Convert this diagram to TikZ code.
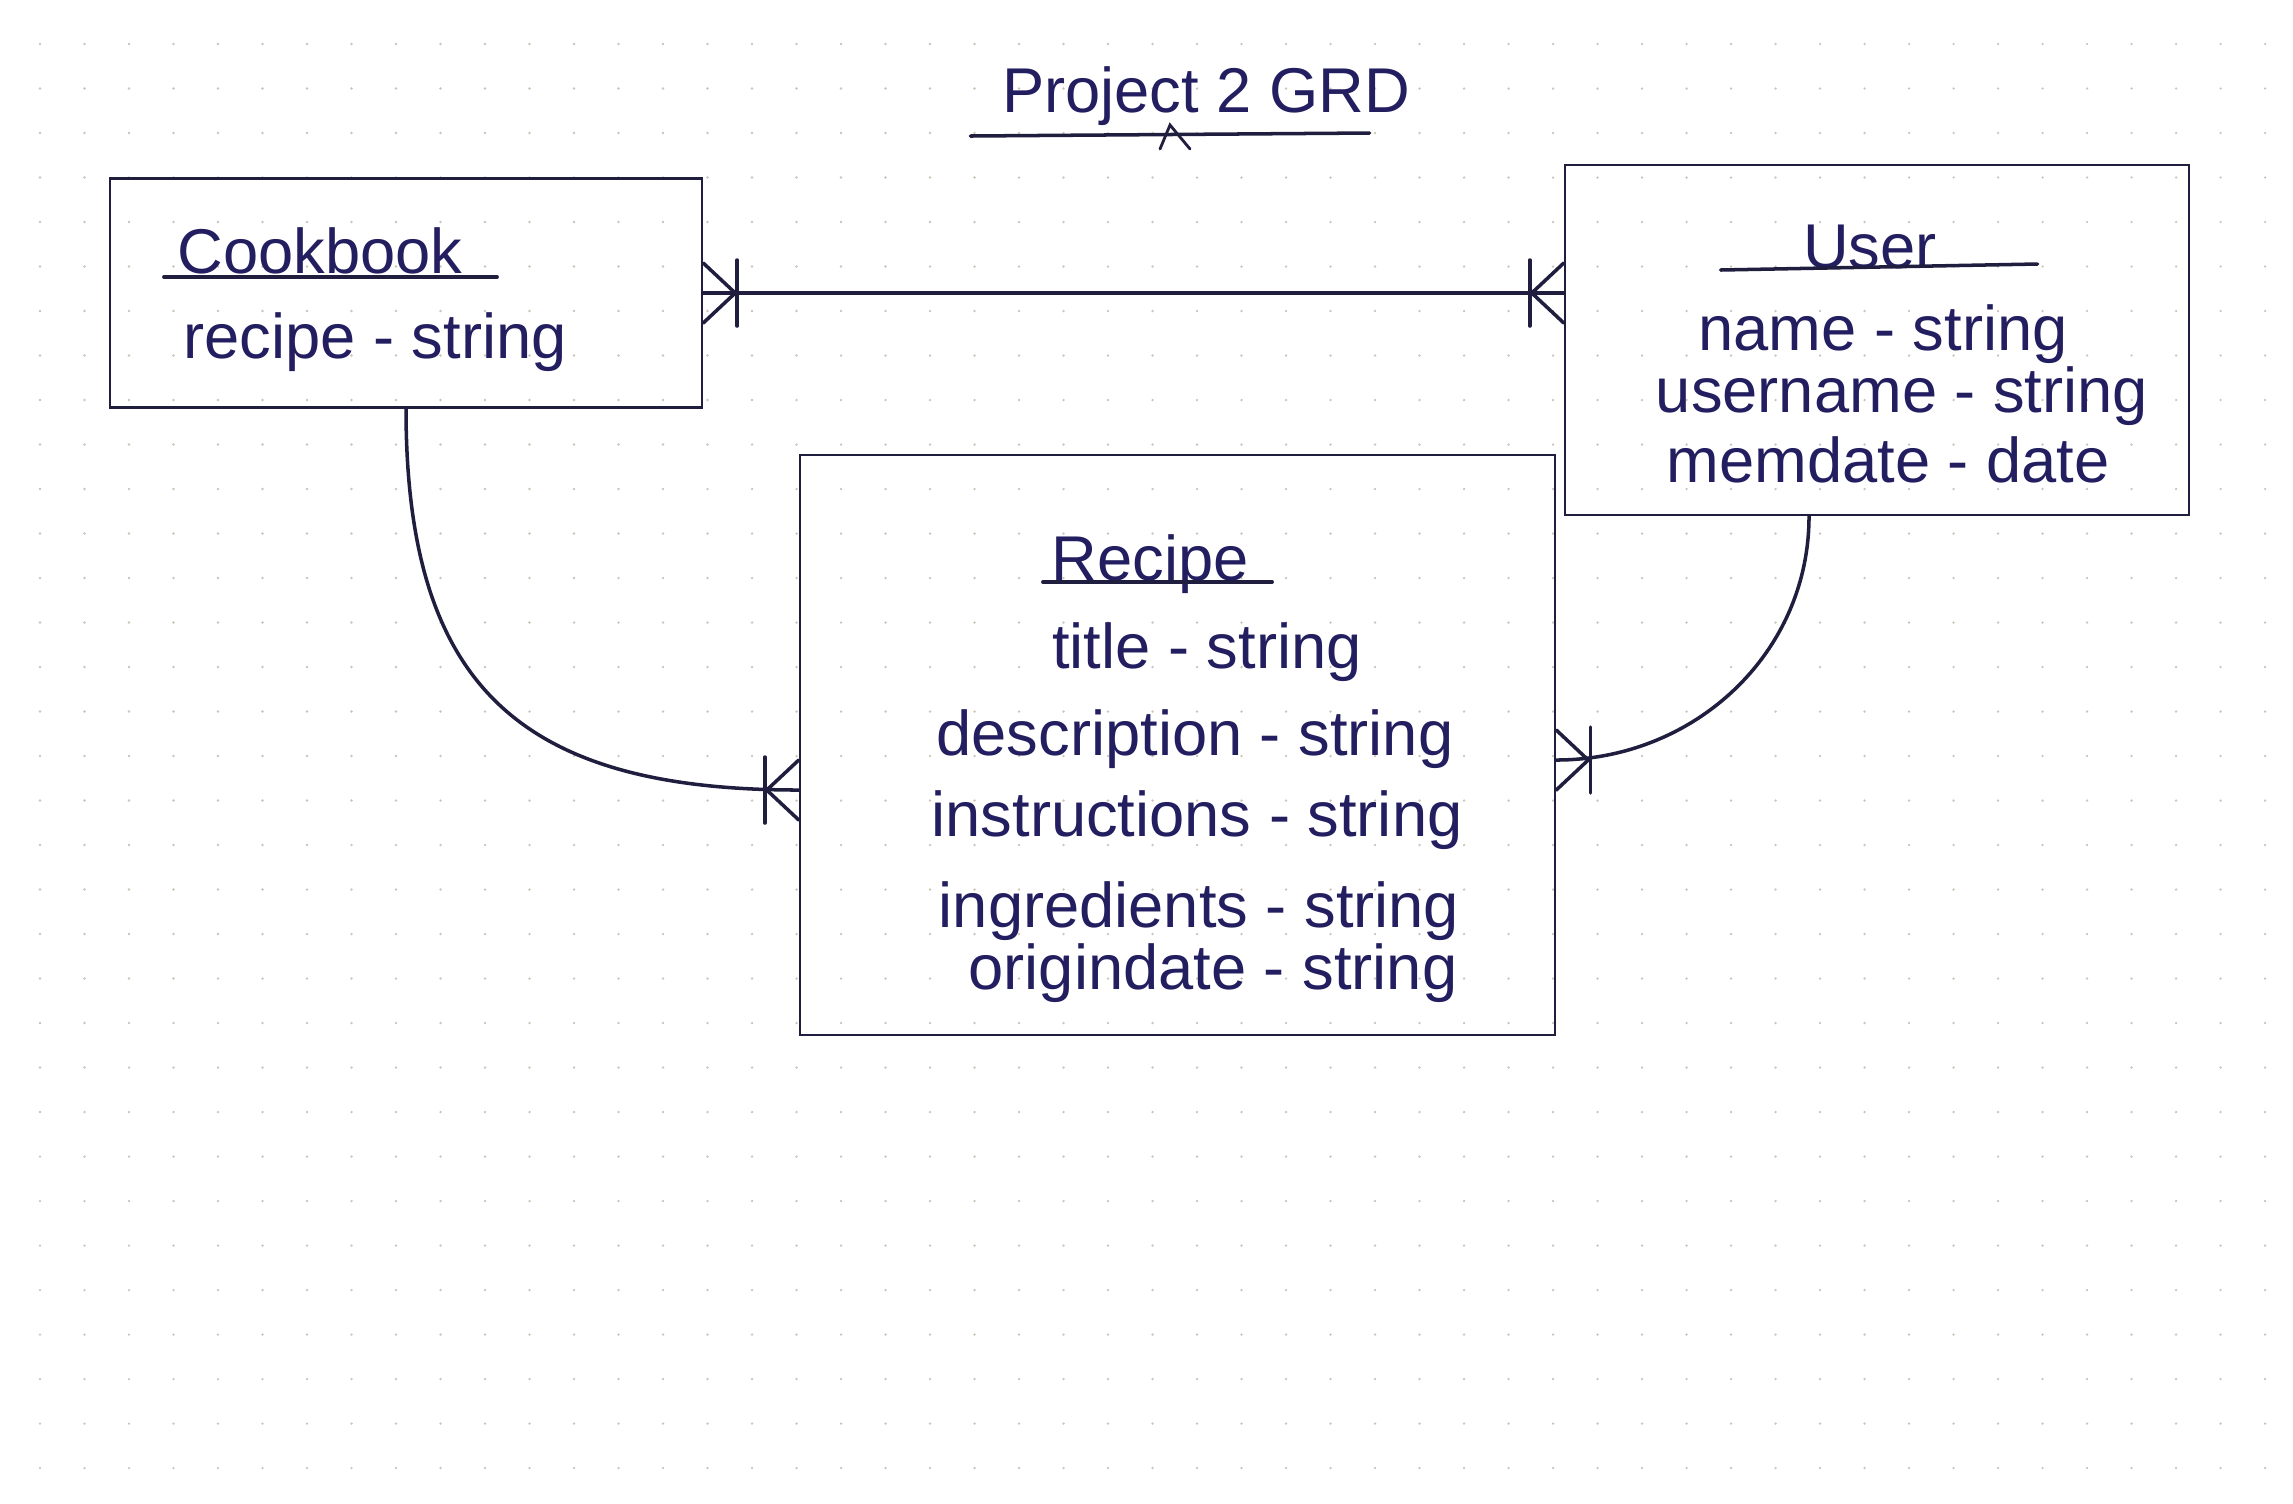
\documentclass[tikz,border=0pt]{standalone}
\usepackage{fontspec}
\setmainfont{Liberation Sans}
\usepackage{tikz}
\usetikzlibrary{
    positioning,                      % right=of, below=of, etc.
    calc                              % aritmetica de coordenadas ($(a)+(1,0)$)
}
\definecolor{ink}{RGB}{34,30,96}
\definecolor{ink_line}{RGB}{32,30,62}
\definecolor{paper_dot}{RGB}{205,196,180}
\tikzset{
    entity/.style={
        rectangle, draw=ink_line, line width=0.7pt,
        inner sep=0pt
    },
    heading/.style={
        anchor=base, text=ink, inner sep=0pt,
        font=\fontsize{18}{21}\selectfont
    },
    attr/.style={
        heading
    },
    uline/.style={
        draw=ink_line, line width=1pt, line cap=round
    },
    link/.style={
        draw=ink_line, line width=1pt, line cap=round
    },
    pics/oneormany/.style={
        code={
            \draw[link] (0,0.3) -- (0.32,0) -- (0,-0.3);
            \draw[link] (0.34,0.33) -- (0.34,-0.33);
        }
    }
}

\begin{document}
\begin{tikzpicture}
    \useasboundingbox (0,0) rectangle (22.93,-15.03);
    \fill[white] (0,0) rectangle (22.93,-15.03);

    % --- Dotted paper ---
    \foreach \i in {0,...,50} {
        \foreach \j in {0,...,32} {
            \fill[paper_dot] (0.40+0.445*\i, -0.44-0.445*\j) circle (0.013);
        }
    }

    % --- Title ---
    \node[heading] (title) at (12.06,-1.12) {Project 2 GRD};
    \draw[uline] ([xshift=-3.1mm,yshift=-2.4mm]title.base west) -- ([xshift=-4.1mm,yshift=-2.1mm]title.base east);
    \draw[uline, line width=0.8pt] ([xshift=-4.6mm,yshift=-3.7mm]title.base)
        -- ([xshift=-3.6mm,yshift=-1.3mm]title.base) -- ([xshift=-1.6mm,yshift=-3.7mm]title.base);

    % --- Entities ---
    \node[entity, minimum width=59.2mm, minimum height=22.9mm] (ck)  at (4.06,-2.93)   {};
    \node[entity, minimum width=62.4mm, minimum height=35mm]   (usr) at (18.77,-3.40)  {};
    \node[entity, minimum width=75.5mm, minimum height=58mm]   (rec) at (11.775,-7.45) {};

    % --- Cookbook ---
    \node[heading] (ck_head)   at (3.20,-2.73) {Cookbook};
    \node[attr]    (ck_recipe) at (3.75,-3.58) {recipe - string};
    \draw[uline] ([xshift=-1.3mm,yshift=-0.4mm]ck_head.base west) -- ([xshift=3.4mm,yshift=-0.4mm]ck_head.base east);

    % --- User ---
    \node[heading] (usr_head)     at (18.70,-2.68) {User};
    \node[attr]    (usr_name)     at (18.83,-3.50) {name - string};
    \node[attr]    (usr_username) at (19.02,-4.12) {username - string};
    \node[attr]    (usr_memdate)  at (18.88,-4.82) {memdate - date};
    \draw[uline] ([xshift=-8.2mm,yshift=-0.2mm]usr_head.base west) -- ([xshift=10mm,yshift=0.4mm]usr_head.base east);

    % --- Recipe ---
    \node[heading] (rec_head)     at (11.50,-5.80) {Recipe};
    \node[attr]    (rec_title)    at (12.07,-6.68) {title - string};
    \node[attr]    (rec_descr)    at (11.95,-7.55) {description - string};
    \node[attr]    (rec_instr)    at (11.97,-8.36) {instructions - string};
    \node[attr]    (rec_ingr)     at (11.99,-9.27) {ingredients - string};
    \node[attr]    (rec_origin)   at (12.13,-9.89) {origindate - string};
    \draw[uline] ([xshift=-0.8mm,yshift=-0.2mm]rec_head.base west) -- ([xshift=2.3mm,yshift=-0.2mm]rec_head.base east);

    % --- Relationships ---
    \coordinate (usr_in) at (ck.east -| usr.west);
    \draw[link] (ck.east) -- (usr_in);
    \pic at (ck.east) {oneormany};
    \pic[rotate=180] at (usr_in) {oneormany};

    \coordinate (rec_in_w) at ([yshift=-4.5mm]rec.west);
    \draw[link] (ck.south) to[out=-90, in=180, looseness=1.3] (rec_in_w);
    \pic[rotate=180] at (rec_in_w) {oneormany};

    \coordinate (usr_out)  at ([xshift=-6.8mm]usr.south);
    \coordinate (rec_in_e) at ([yshift=-1.5mm]rec.east);
    \draw[link] (usr_out) to[out=-90, in=0] (rec_in_e);
    \pic at (rec_in_e) {oneormany};

\end{tikzpicture}
\end{document}
